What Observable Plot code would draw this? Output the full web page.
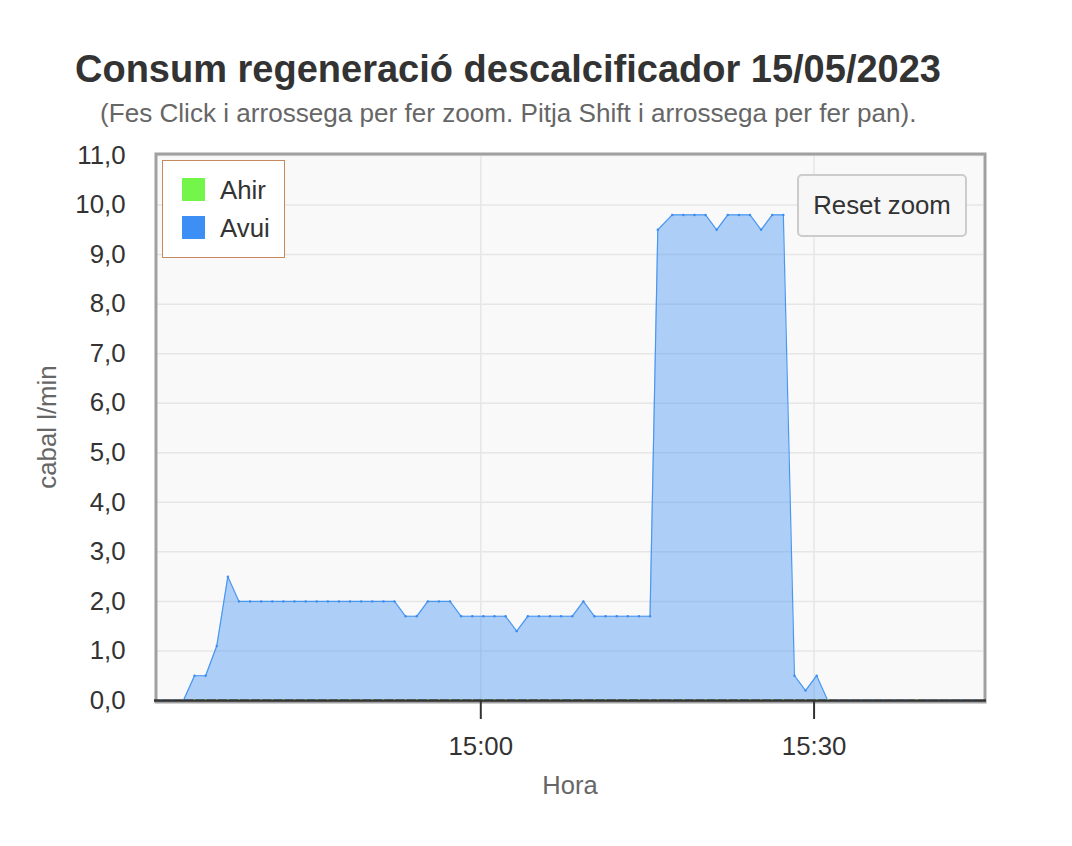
<!DOCTYPE html>
<html>
<head>
<meta charset="utf-8">
<script src="https://cdn.jsdelivr.net/npm/d3@7"></script>
<script src="https://cdn.jsdelivr.net/npm/@observablehq/plot@0.6"></script>
<style>
  html, body { margin: 0; padding: 0; background: #fff; }
  #wrap { position: relative; width: 1072px; height: 846px; overflow: hidden;
          font-family: "Liberation Sans", Arial, Helvetica, sans-serif; color: #333; }
  #wrap svg { position: absolute; left: 0; top: 0; }
  .abs { position: absolute; white-space: nowrap; line-height: 1; }
  #title { left: 75px; top: 50px; font-size: 38px; font-weight: bold; color: #333; }
  #subtitle { left: 100px; top: 100px; font-size: 26.1px; color: #666; }
  #ylabel { left: 48px; top: 427px; font-size: 25.8px; color: #666;
            transform: translate(-50%, -50%) rotate(-90deg); }
  #xlabel { left: 570px; top: 786px; font-size: 25.5px; color: #666; transform: translate(-50%, -50%); }
  #legend { left: 162px; top: 160px; width: 121px; height: 96px; border: 1.5px solid #c4895e; background: #fff; }
  .sw { position: absolute; left: 19px; width: 23px; height: 23px; }
  .lt { position: absolute; left: 57px; font-size: 25.8px; color: #333; line-height: 1; transform: translateY(-50%); }
  #reset { left: 797px; top: 174px; width: 166px; height: 59px; border: 2px solid #cccccc; border-radius: 5px;
           background: #f7f7f7; font-size: 25.8px; color: #333; display: flex; align-items: center; justify-content: center; }
</style>
</head>
<body>
<div id="wrap">
  <div id="title" class="abs">Consum regeneració descalcificador 15/05/2023</div>
  <div id="subtitle" class="abs">(Fes Click i arrossega per fer zoom. Pitja Shift i arrossega per fer pan).</div>
  <div id="ylabel" class="abs">cabal l/min</div>
  <div id="xlabel" class="abs">Hora</div>
</div>
<script>
// ---- data ----
const series = ["Ahir", "Avui"];
const seriesColors = ["#74f54a", "#3d8ef5"];

const hora = [
  "14:31:14","14:32:14","14:33:14","14:34:14","14:35:14","14:36:14","14:37:14","14:38:14","14:39:14","14:40:14",
  "14:41:14","14:42:14","14:43:14","14:44:14","14:45:14","14:46:14","14:47:14","14:48:14","14:49:14","14:50:14",
  "14:51:14","14:52:14","14:53:14","14:54:14","14:55:14","14:56:14","14:57:14","14:58:14","14:59:14","15:00:14",
  "15:01:14","15:02:14","15:03:14","15:04:14","15:05:14","15:06:14","15:07:14","15:08:14","15:09:14","15:10:14",
  "15:11:14","15:12:14","15:13:14","15:14:14","15:15:14","15:15:56","15:17:14","15:18:14","15:19:14","15:20:14",
  "15:21:14","15:22:14","15:23:14","15:24:14","15:25:14","15:26:14","15:27:14","15:28:14","15:29:14","15:30:14",
  "15:31:14","15:32:14","15:33:14","15:34:14","15:35:14","15:36:14","15:37:14","15:38:14","15:39:14","15:40:14",
  "15:41:14","15:42:14","15:43:14","15:44:14","15:45:14"
];

const avui = [
  0, 0, 0, 0.5, 0.5, 1.1, 2.5, 2.0, 2.0, 2.0,
  2.0, 2.0, 2.0, 2.0, 2.0, 2.0, 2.0, 2.0, 2.0, 2.0,
  2.0, 2.0, 1.7, 1.7, 2.0, 2.0, 2.0, 1.7, 1.7, 1.7,
  1.7, 1.7, 1.4, 1.7, 1.7, 1.7, 1.7, 1.7, 2.0, 1.7,
  1.7, 1.7, 1.7, 1.7, 1.7, 9.5, 9.8, 9.8, 9.8, 9.8,
  9.5, 9.8, 9.8, 9.8, 9.5, 9.8, 9.8, 0.5, 0.2, 0.5,
  0, 0, 0, 0, 0, 0, 0, 0, 0, 0,
  0, 0, 0, 0, 0
];

const ahir = [
  null, null, null, 0, 0, 0, 0, 0, 0, 0,
  0, 0, 0, 0, 0, 0, 0, 0, 0, 0,
  0, 0, 0, 0, 0, 0, 0, 0, 0, 0,
  0, 0, 0, 0, 0, 0, 0, 0, 0, 0,
  0, 0, 0, 0, 0, 0, 0, 0, 0, 0,
  0, 0, 0, 0, 0, 0, 0, 0, 0, 0,
  0, null, null, null, null, null, null, null, 0, null,
  null, null, null, null, null
];

const yTicks = [0, 1, 2, 3, 4, 5, 6, 7, 8, 9, 10, 11];
const xTicks = ["15:00:00", "15:30:00"];
const xDomain = ["14:30:54", "15:45:15"];

// ---- build ----
const parse = d3.timeParse("%H:%M:%S");
const dataAvui = hora.map((h, i) => ({t: parse(h), v: avui[i]}));
const dataAhir = hora.map((h, i) => ({t: parse(h), v: ahir[i]})).filter(d => d.v != null);
const xTickDates = xTicks.map(parse);

const chart = Plot.plot({
  width: 1072,
  height: 846,
  marginTop: 155,
  marginBottom: 146,
  marginLeft: 157,
  marginRight: 89,
  style: {background: "transparent", fontFamily: "'Liberation Sans', Arial, Helvetica, sans-serif", fontSize: "25.8px", color: "#333", overflow: "visible"},
  x: {type: "time", domain: xDomain.map(parse)},
  y: {domain: [0, 11]},
  marks: [
    Plot.frame({fill: "#f9f9f9"}),
    Plot.gridY(yTicks, {stroke: "#e6e6e6", strokeOpacity: 1, strokeWidth: 1.5}),
    Plot.gridX(xTickDates, {stroke: "#e6e6e6", strokeOpacity: 1, strokeWidth: 1.5}),
    Plot.areaY(dataAvui, {x: "t", y: "v", fill: seriesColors[1], fillOpacity: 0.4, clip: true}),
    Plot.line(dataAvui, {x: "t", y: "v", stroke: "#4a97f0", strokeWidth: 1.2, clip: true}),
    Plot.frame({stroke: "#a0a0a0", strokeWidth: 3, inset: -1.5}),
    Plot.ruleY([0], {stroke: "#333", strokeWidth: 2.5, insetLeft: -3, insetRight: -3}),
    Plot.dot(dataAvui, {x: "t", y: "v", r: 1.2, fill: "#3a8cf0", clip: true}),
    Plot.dot(dataAhir, {x: "t", y: "v", r: 1.2, fill: "#6cd63c", clip: true}),
    Plot.axisY(yTicks, {tickSize: 0, tickPadding: 32, tickFormat: d => d.toFixed(1).replace(".", ","), label: null, fill: "#333"}),
    Plot.axisX(xTickDates, {tickSize: 19, tickPadding: 17, strokeWidth: 2, stroke: "#333", fill: "#333", tickFormat: d3.timeFormat("%H:%M"), label: null})
  ]
});

const wrap = document.getElementById("wrap");
wrap.insertBefore(chart, wrap.firstChild);

// legend
const legend = document.createElement("div");
legend.id = "legend";
legend.className = "abs";
series.forEach((s, i) => {
  const sw = document.createElement("div");
  sw.className = "sw";
  sw.style.top = (17 + i * 38) + "px";
  sw.style.background = seriesColors[i];
  const lt = document.createElement("div");
  lt.className = "lt";
  lt.style.top = (30 + i * 38) + "px";
  lt.textContent = s;
  legend.appendChild(sw);
  legend.appendChild(lt);
});
wrap.appendChild(legend);

// reset zoom button
const btn = document.createElement("div");
btn.id = "reset";
btn.className = "abs";
btn.textContent = "Reset zoom";
wrap.appendChild(btn);
</script>
</body>
</html>
